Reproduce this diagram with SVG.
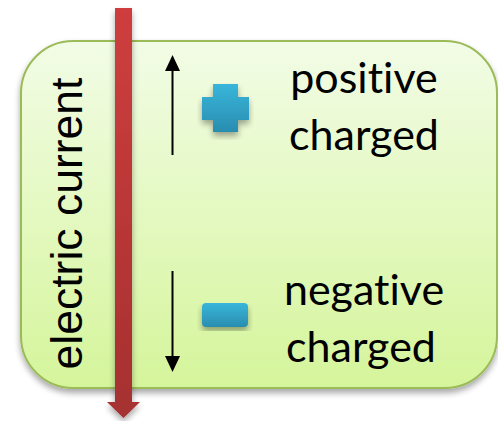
<svg xmlns="http://www.w3.org/2000/svg" width="498" height="421" viewBox="0 0 498 421">
<style>
.lbl{font-family:Lato,"Open Sans","Liberation Sans",sans-serif;font-size:43px;fill:#000;font-variant-ligatures:none;font-feature-settings:"liga" 0}
.cur{font-family:"Liberation Sans",Arial,sans-serif;font-size:44.5px;fill:#000}
.blk{stroke:#000;stroke-width:2;fill:none}
</style>
<defs>
<linearGradient id="gbox" x1="0" y1="0" x2="0" y2="1">
<stop offset="0" stop-color="#f2fce6"/>
<stop offset="1" stop-color="#d5f59b"/>
</linearGradient>
<linearGradient id="gred" x1="0" y1="0" x2="0" y2="1">
<stop offset="0" stop-color="#cf3e3e"/>
<stop offset="1" stop-color="#a53030"/>
</linearGradient>
<linearGradient id="gblue" x1="0" y1="0" x2="0" y2="1">
<stop offset="0" stop-color="#38b6da"/>
<stop offset="1" stop-color="#2a8db0"/>
</linearGradient>
<filter id="sh" x="-10%" y="-10%" width="120%" height="125%">
<feGaussianBlur in="SourceAlpha" stdDeviation="3"/>
<feOffset dx="0" dy="4" result="b"/>
<feComponentTransfer><feFuncA type="linear" slope="0.35"/></feComponentTransfer>
<feMerge><feMergeNode/><feMergeNode in="SourceGraphic"/></feMerge>
</filter>
</defs>
<g id="box">
<rect x="21" y="41" width="476" height="347" rx="52" ry="52" fill="url(#gbox)" stroke="#9bbb59" stroke-width="2" filter="url(#sh)"/>
</g>
<g id="label-current">
<text class="cur" transform="translate(82,223.5) rotate(-90)" text-anchor="middle">electric current</text>
</g>
<g id="plus">
<path d="M213,84 H238 V97 H249 V120 H238 V132 H213 V120 H202 V97 H213 Z" fill="url(#gblue)" filter="url(#sh)"/>
</g>
<g id="minus">
<rect x="202" y="303" width="46" height="24" rx="4" fill="url(#gblue)" filter="url(#sh)"/>
</g>
<g id="label-positive">
<text class="lbl" x="364" y="93" text-anchor="middle">positive</text>
<text class="lbl" x="364" y="150" text-anchor="middle">charged</text>
</g>
<g id="label-negative">
<text class="lbl" x="364" y="305" text-anchor="middle">negative</text>
<text class="lbl" x="361" y="362" text-anchor="middle">charged</text>
</g>
<g id="connectors">
<path id="current-arrow" d="M115,8 H132 V402 H140 L123.5,418 L107,402 H115 Z" fill="url(#gred)" filter="url(#sh)"/>
<line x1="172.5" y1="155" x2="172.5" y2="70" class="blk"/>
<path d="M165,71 L172.5,55 L180,71 Z" fill="#000"/>
<line x1="172.5" y1="271" x2="172.5" y2="357" class="blk"/>
<path d="M165,356 L172.5,372 L180,356 Z" fill="#000"/>
</g>
</svg>
